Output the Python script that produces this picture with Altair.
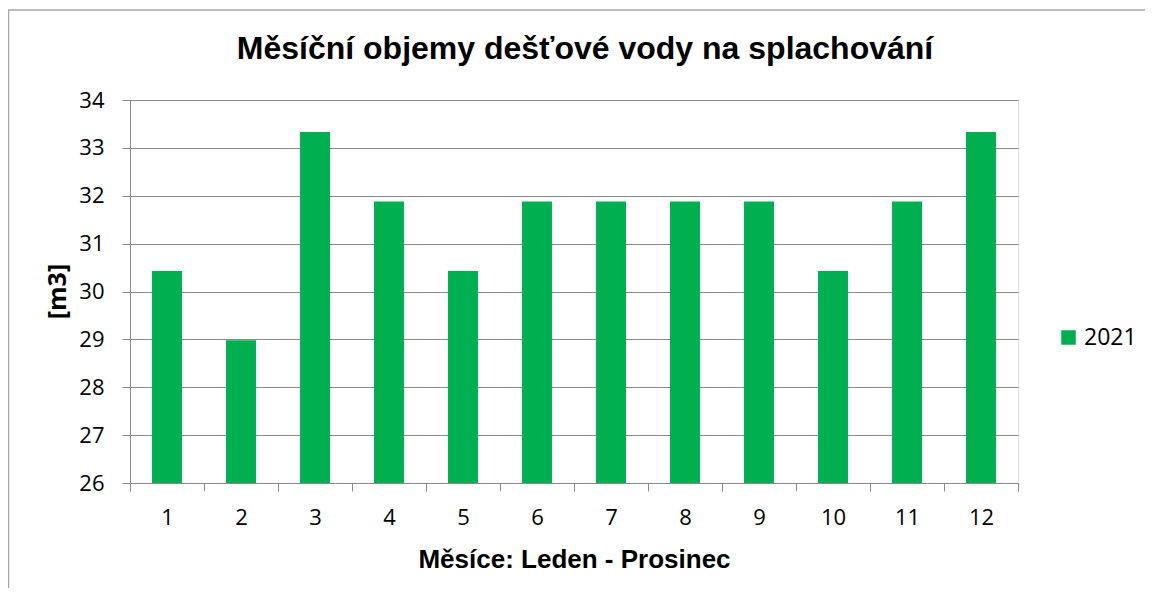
import altair as alt
import pandas as pd

months = [1, 2, 3, 4, 5, 6, 7, 8, 9, 10, 11, 12]
values = [30.43, 28.98, 33.33, 31.88, 30.43, 31.88, 31.88, 31.88, 31.88, 30.43, 31.88, 33.33]
series = ["2021"] * 12
y_ticks = [26, 27, 28, 29, 30, 31, 32, 33, 34]

df = pd.DataFrame({"mesic": months, "objem": values, "rok": series})

GREEN = "#00B050"
GREY = "#898989"
FONT = "Open Sans"

bars = alt.Chart(df).mark_bar(color=GREEN, width=alt.RelativeBandSize(0.405), clip=True).encode(
    x=alt.X(
        "mesic:O",
        scale=alt.Scale(paddingInner=0, paddingOuter=0),
        axis=alt.Axis(
            title="Měsíce: Leden - Prosinec",
            labelAngle=0,
            tickBand="extent",
            tickSize=8,
            tickColor=GREY,
            domainColor=GREY,
            labelFont=FONT,
            labelFontSize=22,
            labelColor="#000000",
            labelPadding=16,
            titleFont="Liberation Sans",
            titleFontSize=26,
            titleFontWeight="bold",
            titleColor="#000000",
            titleBaseline="alphabetic",
            titleX=444,
            titleY=84,
            grid=False,
        ),
    ),
    y=alt.Y(
        "objem:Q",
        scale=alt.Scale(domain=[26, 34], zero=False, nice=False),
        axis=alt.Axis(
            title="[m3]",
            values=y_ticks,
            tickSize=8,
            tickColor=GREY,
            domainColor=GREY,
            gridColor=GREY,
            labelFont=FONT,
            labelFontSize=22,
            labelColor="#000000",
            labelPadding=18,
            titleFont=FONT,
            titleFontSize=25,
            titleFontWeight="bold",
            titleColor="#000000",
            titleAngle=-90,
            titleAlign="center",
            titleBaseline="middle",
            titleX=-73,
            titleY=191,
        ),
    ),
    color=alt.Color(
        "rok:N",
        scale=alt.Scale(range=[GREEN]),
        legend=alt.Legend(
            title=None,
            orient="none",
            legendX=927,
            legendY=226,
            symbolType="square",
            symbolSize=210,
            symbolStrokeWidth=0,
            labelFont=FONT,
            labelFontSize=23,
            labelColor="#000000",
            padding=0,
        ),
    ),
)

frame_df = pd.DataFrame({"k": [0]})
frame_top = alt.Chart(frame_df).mark_rule(color="#A6A6A6", strokeWidth=1.5).encode(
    x=alt.value(-122), x2=alt.value(1030), y=alt.value(-90)
)
frame_left = alt.Chart(frame_df).mark_rule(color="#A6A6A6", strokeWidth=1.5).encode(
    x=alt.value(-121.5), y=alt.value(-90), y2=alt.value(500)
)

chart = alt.layer(frame_top, frame_left, bars).properties(
    width=888,
    height=383,
    autosize=alt.AutoSizeParams(type="none"),
    padding={"left": 122, "top": 92, "right": 127, "bottom": 105},
    title=alt.TitleParams(
        "Měsíční objemy dešťové vody na splachování",
        font="Liberation Sans",
        fontSize=32,
        fontWeight="bold",
        color="#000000",
        anchor="middle",
        dx=11,
        offset=-57,
    ),
).configure_view(stroke=None).configure(background="#ffffff")

chart.save("out.html", embed_options={"renderer": "svg", "actions": False})
